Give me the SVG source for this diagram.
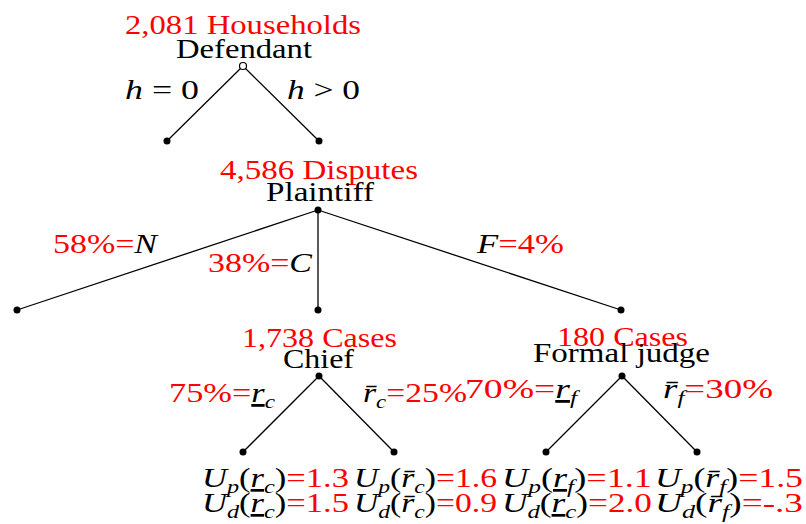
<svg xmlns="http://www.w3.org/2000/svg" width="806" height="524" viewBox="0 0 806 524" font-family="Liberation Serif, Times New Roman, DejaVu Serif, serif">
<style>
text{font-family:"Liberation Serif","Times New Roman","DejaVu Serif",serif}
.t{font-size:28px;fill:#000}
.b{font-size:27px}
.r{fill:#ff0000}
.i{font-style:italic}
.s{font-size:19px}
.u{text-decoration:underline}
.e{stroke:#000;stroke-width:1.3;fill:none}
.d{fill:#000}
</style>
<rect width="806" height="524" fill="#fff"/>
<g id="connectors">
<line class="e" x1="243" y1="66" x2="167" y2="141"/>
<line class="e" x1="243" y1="66" x2="319" y2="141"/>
<line class="e" x1="318" y1="210" x2="17" y2="310"/>
<line class="e" x1="318" y1="210" x2="318" y2="310"/>
<line class="e" x1="318" y1="210" x2="621" y2="310"/>
<line class="e" x1="319" y1="376" x2="243" y2="452"/>
<line class="e" x1="319" y1="376" x2="394" y2="452"/>
<line class="e" x1="622" y1="376" x2="546" y2="452"/>
<line class="e" x1="622" y1="376" x2="697" y2="452"/>
</g>
<g id="defendant">
<text class="t r" x="125" y="34" textLength="236" lengthAdjust="spacingAndGlyphs">2,081 Households</text>
<text class="t" x="176" y="58" textLength="136" lengthAdjust="spacingAndGlyphs">Defendant</text>
<circle cx="243" cy="66" r="3.5" fill="#fff" stroke="#000" stroke-width="1.2"/>
<text class="t" x="125" y="99" textLength="74" lengthAdjust="spacingAndGlyphs"><tspan class="i">h</tspan> = 0</text>
<text class="t" x="287" y="99" textLength="73" lengthAdjust="spacingAndGlyphs"><tspan class="i">h</tspan> &gt; 0</text>
</g>
<g id="h0"><circle class="d" cx="167" cy="141" r="3.5"/></g>
<g id="hpos"><circle class="d" cx="319" cy="141" r="3.5"/></g>
<g id="plaintiff">
<text class="t r" x="220" y="179" textLength="198" lengthAdjust="spacingAndGlyphs">4,586 Disputes</text>
<text class="t" x="266" y="201" textLength="108" lengthAdjust="spacingAndGlyphs">Plaintiff</text>
<circle class="d" cx="318" cy="210" r="3.5"/>
<text class="t" x="53" y="253" textLength="104" lengthAdjust="spacingAndGlyphs"><tspan class="r">58%=</tspan><tspan class="i">N</tspan></text>
<text class="t" x="208" y="272" textLength="104" lengthAdjust="spacingAndGlyphs"><tspan class="r">38%=</tspan><tspan class="i">C</tspan></text>
<text class="t" x="477" y="253" textLength="87" lengthAdjust="spacingAndGlyphs"><tspan class="i">F</tspan><tspan class="r">=4%</tspan></text>
</g>
<g id="none"><circle class="d" cx="17" cy="310" r="3.5"/></g>
<g id="chief">
<circle class="d" cx="318" cy="310" r="3.5"/>
<text class="t r" x="242" y="347" textLength="155" lengthAdjust="spacingAndGlyphs">1,738 Cases</text>
<text class="t" x="283" y="368" textLength="71" lengthAdjust="spacingAndGlyphs">Chief</text>
<circle class="d" cx="319" cy="376" r="3.5"/>
<text class="t" x="169" y="402" textLength="106" lengthAdjust="spacingAndGlyphs"><tspan class="r">75%=</tspan><tspan class="i u">r</tspan><tspan class="i s" dy="6">c</tspan></text>
<text class="t" x="363" y="402" textLength="104" lengthAdjust="spacingAndGlyphs"><tspan class="i">r&#x304;</tspan><tspan class="i s" dy="6">c</tspan><tspan class="r" dy="-6">=25%</tspan></text>
</g>
<g id="formal">
<circle class="d" cx="621" cy="310" r="3.5"/>
<text class="t r" x="557" y="346" textLength="131" lengthAdjust="spacingAndGlyphs">180 Cases</text>
<text class="t" x="533" y="362" textLength="177" lengthAdjust="spacingAndGlyphs">Formal judge</text>
<circle class="d" cx="622" cy="376" r="3.5"/>
<text class="t" x="465" y="398" textLength="112" lengthAdjust="spacingAndGlyphs"><tspan class="r">70%=</tspan><tspan class="i u">r</tspan><tspan class="i s" dy="6">f</tspan></text>
<text class="t" x="663" y="398" textLength="110" lengthAdjust="spacingAndGlyphs"><tspan class="i">r&#x304;</tspan><tspan class="i s" dy="6">f</tspan><tspan class="r" dy="-6">=30%</tspan></text>
</g>
<g id="chief-low">
<circle class="d" cx="243" cy="452" r="3.5"/>
<text class="t b" x="202" y="487" textLength="147" lengthAdjust="spacingAndGlyphs"><tspan class="i">U</tspan><tspan class="i s" dy="6">p</tspan><tspan dy="-6">(</tspan><tspan class="i u">r</tspan><tspan class="i s" dy="6">c</tspan><tspan dy="-6">)</tspan><tspan class="r">=1.3</tspan></text>
<text class="t b" x="202" y="512" textLength="147" lengthAdjust="spacingAndGlyphs"><tspan class="i">U</tspan><tspan class="i s" dy="6">d</tspan><tspan dy="-6">(</tspan><tspan class="i u">r</tspan><tspan class="i s" dy="6">c</tspan><tspan dy="-6">)</tspan><tspan class="r">=1.5</tspan></text>
</g>
<g id="chief-high">
<circle class="d" cx="394" cy="452" r="3.5"/>
<text class="t b" x="354" y="487" textLength="143" lengthAdjust="spacingAndGlyphs"><tspan class="i">U</tspan><tspan class="i s" dy="6">p</tspan><tspan dy="-6">(</tspan><tspan class="i">r&#x304;</tspan><tspan class="i s" dy="6">c</tspan><tspan dy="-6">)</tspan><tspan class="r">=1.6</tspan></text>
<text class="t b" x="354" y="512" textLength="143" lengthAdjust="spacingAndGlyphs"><tspan class="i">U</tspan><tspan class="i s" dy="6">d</tspan><tspan dy="-6">(</tspan><tspan class="i">r&#x304;</tspan><tspan class="i s" dy="6">c</tspan><tspan dy="-6">)</tspan><tspan class="r">=0.9</tspan></text>
</g>
<g id="formal-low">
<circle class="d" cx="546" cy="452" r="3.5"/>
<text class="t b" x="502" y="487" textLength="150" lengthAdjust="spacingAndGlyphs"><tspan class="i">U</tspan><tspan class="i s" dy="6">p</tspan><tspan dy="-6">(</tspan><tspan class="i u">r</tspan><tspan class="i s" dy="6">f</tspan><tspan dy="-6">)</tspan><tspan class="r">=1.1</tspan></text>
<text class="t b" x="502" y="512" textLength="150" lengthAdjust="spacingAndGlyphs"><tspan class="i">U</tspan><tspan class="i s" dy="6">d</tspan><tspan dy="-6">(</tspan><tspan class="i u">r</tspan><tspan class="i s" dy="6">c</tspan><tspan dy="-6">)</tspan><tspan class="r">=2.0</tspan></text>
</g>
<g id="formal-high">
<circle class="d" cx="697" cy="452" r="3.5"/>
<text class="t b" x="655" y="487" textLength="148" lengthAdjust="spacingAndGlyphs"><tspan class="i">U</tspan><tspan class="i s" dy="6">p</tspan><tspan dy="-6">(</tspan><tspan class="i">r&#x304;</tspan><tspan class="i s" dy="6">f</tspan><tspan dy="-6">)</tspan><tspan class="r">=1.5</tspan></text>
<text class="t b" x="655" y="512" textLength="148" lengthAdjust="spacingAndGlyphs"><tspan class="i">U</tspan><tspan class="i s" dy="6">d</tspan><tspan dy="-6">(</tspan><tspan class="i">r&#x304;</tspan><tspan class="i s" dy="6">f</tspan><tspan dy="-6">)</tspan><tspan class="r">=-.3</tspan></text>
</g>
</svg>
